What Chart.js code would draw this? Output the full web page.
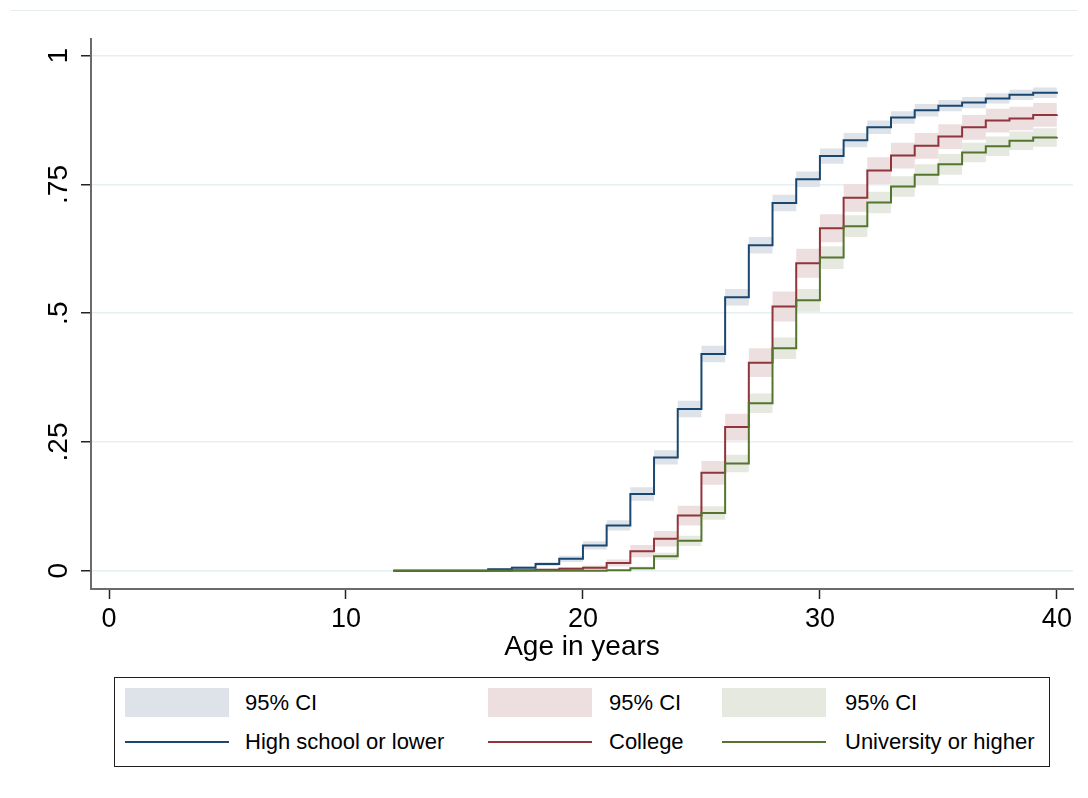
<!DOCTYPE html>
<html>
<head>
<meta charset="utf-8">
<script src="https://cdn.jsdelivr.net/npm/chart.js@4.4.0/dist/chart.umd.min.js"></script>
<style>
html,body{margin:0;padding:0;background:#fff;}
#wrap{position:relative;width:1088px;height:798px;font-family:"Liberation Sans",Arial,sans-serif;overflow:hidden;}
#wrap canvas{position:absolute;left:0;top:0;}
.topline{position:absolute;left:11px;top:10px;width:1066px;height:1px;background:#e6eeec;}
#legend{position:absolute;left:114px;top:677px;width:934px;height:88px;border:1px solid #1e1e1e;background:#fff;}
.sw{position:absolute;width:104px;height:29px;}
.ln{position:absolute;width:104px;height:2px;}
.lt{position:absolute;font-size:22px;line-height:26px;color:#000;white-space:nowrap;}
</style>
</head>
<body>
<div id="wrap">
  <div class="topline"></div>
  <canvas id="c" width="1088" height="798"></canvas>
  <div id="legend"></div>
</div>
<script>
// ---- data ----
const ages = [12,13,14,15,16,17,18,19,20,21,22,23,24,25,26,27,28,29,30,31,32,33,34,35,36,37,38,39,40];

const seriesNames = ['High school or lower', 'College', 'University or higher'];
const ciLabel = '95% CI';

const hsValues = [0,0,0,0,0.003,0.006,0.013,0.023,0.049,0.088,0.149,0.220,0.314,0.421,0.531,0.632,0.714,0.760,0.805,0.836,0.861,0.880,0.894,0.903,0.909,0.917,0.924,0.928,0.930];
const hsLower  = [0,0,0,0,0.001,0.003,0.009,0.017,0.041,0.078,0.136,0.206,0.298,0.405,0.515,0.616,0.698,0.745,0.790,0.822,0.848,0.868,0.882,0.892,0.898,0.907,0.914,0.918,0.920];
const hsUpper  = [0,0,0,0,0.005,0.009,0.017,0.029,0.057,0.098,0.162,0.234,0.330,0.437,0.547,0.648,0.730,0.775,0.820,0.850,0.874,0.892,0.906,0.914,0.920,0.927,0.934,0.938,0.940];

const colValues = [0,0,0,0,0,0.001,0.002,0.004,0.006,0.015,0.038,0.062,0.107,0.190,0.279,0.404,0.513,0.597,0.665,0.724,0.777,0.806,0.825,0.843,0.861,0.874,0.878,0.885,0.886];
const colLower  = [0,0,0,0,0,0.000,0.000,0.001,0.002,0.008,0.026,0.047,0.088,0.167,0.253,0.376,0.484,0.569,0.638,0.697,0.751,0.781,0.800,0.819,0.837,0.851,0.855,0.862,0.863];
const colUpper  = [0,0,0,0,0,0.002,0.004,0.007,0.010,0.022,0.050,0.077,0.126,0.213,0.305,0.432,0.542,0.625,0.692,0.751,0.803,0.831,0.850,0.867,0.885,0.897,0.901,0.908,0.909];

const uniValues = [0,0,0,0,0,0,0,0,0,0.001,0.005,0.028,0.058,0.112,0.208,0.325,0.432,0.525,0.608,0.669,0.715,0.746,0.769,0.789,0.812,0.824,0.835,0.841,0.842];
const uniLower  = [0,0,0,0,0,0,0,0,0,0.000,0.002,0.021,0.048,0.099,0.191,0.306,0.411,0.503,0.586,0.648,0.694,0.726,0.749,0.769,0.793,0.805,0.817,0.823,0.824];
const uniUpper  = [0,0,0,0,0,0,0,0,0,0.002,0.008,0.035,0.068,0.125,0.225,0.344,0.453,0.547,0.630,0.690,0.736,0.766,0.789,0.809,0.831,0.843,0.853,0.859,0.860];

const xTicks = [0,10,20,30,40];
const xTickLabels = ['0','10','20','30','40'];
const yTicks = [0,0.25,0.5,0.75,1];
const yTickLabels = ['0','.25','.5','.75','1'];
const xTitle = 'Age in years';

// ---- styles ----
const lineColors = ['#1a476f','#90353b','#55752f'];
const bandColors = ['#dee3ea','#eddfe0','#e6e9df'];
const FONT = '"Liberation Sans", Arial, sans-serif';

const values = [hsValues, colValues, uniValues];
const lowers = [hsLower, colLower, uniLower];
const uppers = [hsUpper, colUpper, uniUpper];

const pts = arr => ages.map((a,i) => ({x:a, y:arr[i]}));

const datasets = [];
for (let s = 0; s < 3; s++) {
  datasets.push({
    label: ciLabel + ' low ' + s, data: pts(lowers[s]), stepped: true,
    borderWidth: 0, borderColor: 'rgba(0,0,0,0)', pointRadius: 0, fill: false,
    order: 30 - s*2
  });
  datasets.push({
    label: ciLabel, data: pts(uppers[s]), stepped: true,
    borderWidth: 0, borderColor: 'rgba(0,0,0,0)', pointRadius: 0,
    fill: '-1', backgroundColor: bandColors[s],
    order: 30 - s*2
  });
}
for (let s = 0; s < 3; s++) {
  datasets.push({
    label: seriesNames[s], data: pts(values[s]), stepped: true,
    borderColor: lineColors[s], borderWidth: 2, pointRadius: 0, fill: false,
    order: 3 - s
  });
}

const yLabelPlugin = {
  id: 'yLabels',
  afterDraw(chart) {
    const s = chart.scales.y, ctx = chart.ctx;
    ctx.save();
    ctx.font = '28px ' + FONT;
    ctx.fillStyle = '#000';
    ctx.textAlign = 'center';
    ctx.textBaseline = 'middle';
    yTicks.forEach((v,i) => {
      const y = s.getPixelForValue(v);
      ctx.save();
      ctx.translate(59, y);
      ctx.rotate(-Math.PI/2);
      ctx.fillText(yTickLabels[i], 0, 0);
      ctx.restore();
    });
    ctx.restore();
  }
};

new Chart(document.getElementById('c'), {
  type: 'line',
  data: { datasets },
  plugins: [yLabelPlugin],
  options: {
    responsive: false,
    animation: false,
    layout: { padding: { top: 39, right: 15, bottom: 133, left: 0 } },
    plugins: { legend: { display: false }, tooltip: { enabled: false } },
    scales: {
      x: {
        type: 'linear', min: -0.76, max: 40.68,
        afterBuildTicks: sc => { sc.ticks = xTicks.map(v => ({value: v})); },
        afterFit: sc => { sc.height = 76; },
        ticks: {
          font: { size: 27, family: FONT }, color: '#000', padding: 4,
          maxRotation: 0, autoSkip: false,
          callback: (v, i) => xTickLabels[i]
        },
        grid: { drawOnChartArea: false, drawTicks: true, tickLength: 10, tickColor: '#222', tickWidth: 1.5 },
        border: { display: true, color: '#6b6b6b', width: 2 },
        title: { display: true, text: xTitle, color: '#000', font: { size: 28, family: FONT }, padding: { top: 0, bottom: 1 } }
      },
      y: {
        type: 'linear', min: -0.0355, max: 1.0324,
        afterBuildTicks: sc => { sc.ticks = yTicks.map(v => ({value: v})); },
        afterFit: sc => { sc.width = 91; },
        ticks: { display: false },
        grid: { color: '#e5eff1', lineWidth: 1.5, drawTicks: true, tickLength: 10, tickColor: '#222', tickWidth: 1.5 },
        border: { display: true, color: '#6b6b6b', width: 2 }
      }
    }
  }
});

// ---- legend (HTML text) ----
const legend = document.getElementById('legend');
const colSwatchX = [10, 373, 607];
const colTextX = [130, 494, 730];
for (let s = 0; s < 3; s++) {
  const sw = document.createElement('div');
  sw.className = 'sw'; sw.style.left = colSwatchX[s] + 'px'; sw.style.top = '10px'; sw.style.background = bandColors[s];
  legend.appendChild(sw);
  const t1 = document.createElement('div');
  t1.className = 'lt'; t1.style.left = colTextX[s] + 'px'; t1.style.top = '12px'; t1.textContent = ciLabel;
  legend.appendChild(t1);
  const ln = document.createElement('div');
  ln.className = 'ln'; ln.style.left = colSwatchX[s] + 'px'; ln.style.top = '63px'; ln.style.background = lineColors[s];
  legend.appendChild(ln);
  const t2 = document.createElement('div');
  t2.className = 'lt'; t2.style.left = colTextX[s] + 'px'; t2.style.top = '51px'; t2.textContent = seriesNames[s];
  legend.appendChild(t2);
}
</script>
</body>
</html>
